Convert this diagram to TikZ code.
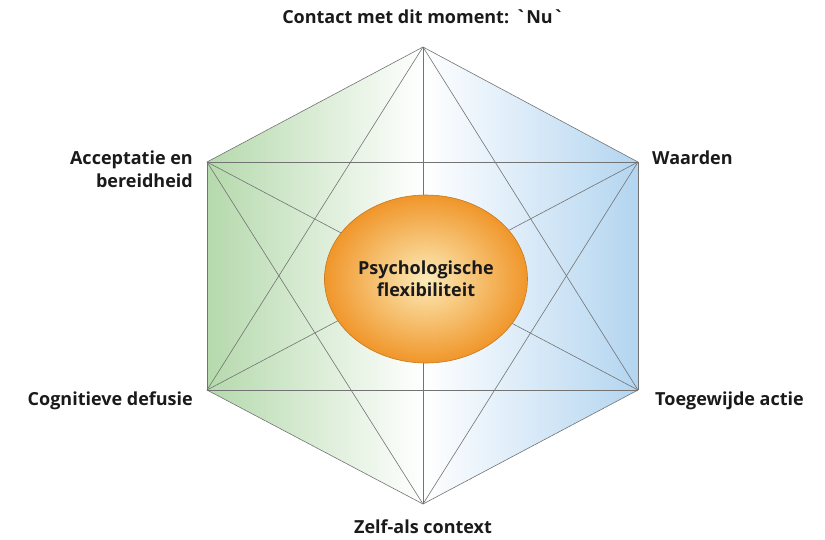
\documentclass[tikz,border=0pt]{standalone}
\usepackage{fontspec}
\setmainfont{Open Sans}[Ligatures=TeXOff]
\usetikzlibrary{shapes.geometric}
\definecolor{lbl}{HTML}{1A1A1A}
\definecolor{gleft}{HTML}{B5D9AC}
\definecolor{bright}{HTML}{B3D5F0}
\definecolor{ocenter}{HTML}{FCEBB8}
\definecolor{oedge}{HTML}{F0962A}
\definecolor{oline}{HTML}{C8781E}
\tikzset{
  lab/.style={font=\fontsize{18}{22}\selectfont\bfseries, text=lbl, inner sep=0pt},
  edgeline/.style={draw=black!55, line width=0.6pt}
}
\begin{document}
\begin{tikzpicture}[x=1pt,y=-1pt]
\useasboundingbox (0,0) rectangle (825,539);
\coordinate (T) at (423,47);
\coordinate (UL) at (207,162);
\coordinate (UR) at (638,162);
\coordinate (LL) at (207,390);
\coordinate (LR) at (638,390);
\coordinate (B) at (423,504);
% fill
\shade[left color=gleft, right color=bright, middle color=white] (T) -- (UR) -- (LR) -- (B) -- (LL) -- (UL) -- cycle;
% lines (complete graph)
\foreach \a/\b in {T/UR,UR/LR,LR/B,B/LL,LL/UL,UL/T,T/LL,T/LR,T/B,UL/UR,UL/LR,UL/B,UR/LL,UR/B,LL/LR}
  \draw[edgeline] (\a) -- (\b);
% centre
\node[ellipse, minimum width=203pt, minimum height=168pt, inner color=ocenter, outer color=oedge, draw=oline, line width=0.6pt, align=center, lab] (C) at (426,279) {Psychologische\\flexibiliteit};
% labels
\node[lab] (lt) at (423,17) {Contact met dit moment: `Nu`};
\node[lab, anchor=east, align=right] (lul) at (193,169) {Acceptatie en\\[1pt]bereidheid};
\node[lab, anchor=west] (lur) at (652,158) {Waarden};
\node[lab, anchor=east] (lll) at (193,401) {Cognitieve defusie};
\node[lab, anchor=west] (llr) at (655,401) {Toegewijde actie};
\node[lab] (lb) at (423,527) {Zelf-als context};
\end{tikzpicture}
\end{document}
